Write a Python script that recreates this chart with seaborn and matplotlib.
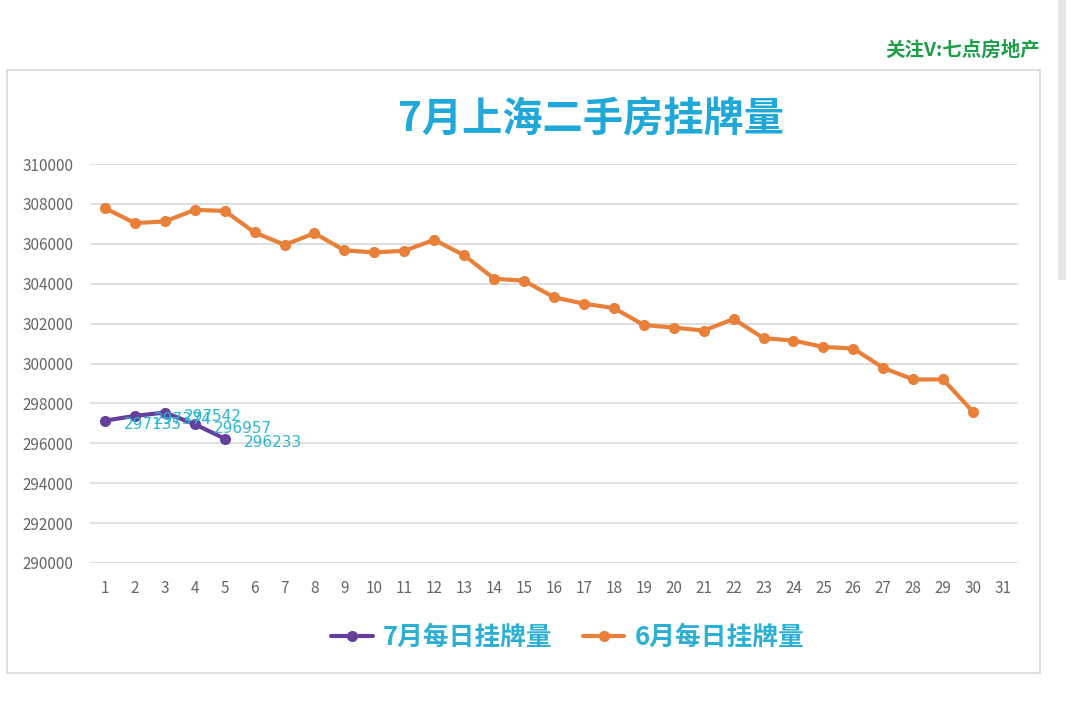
import seaborn as sns
import matplotlib.pyplot as plt
import pandas as pd
from matplotlib.patches import Rectangle

# data
days_june = list(range(1, 31))
june_vals = [307790, 307040, 307120, 307700, 307650, 306570, 305950, 306530, 305670, 305570,
             305650, 306200, 305420, 304250, 304150, 303320, 303000, 302780, 301930, 301800,
             301650, 302230, 301270, 301150, 300830, 300750, 299780, 299200, 299200, 297570]
days_july = [1, 2, 3, 4, 5]
july_vals = [297135, 297374, 297542, 296957, 296233]
x_ticks = list(range(1, 32))
label_july = "7月每日挂牌量"
label_june = "6月每日挂牌量"

df = pd.concat([
    pd.DataFrame({"day": days_july, "value": july_vals, "series": label_july}),
    pd.DataFrame({"day": days_june, "value": june_vals, "series": label_june}),
])

sns.set_style("white")
plt.rcParams['font.family'] = ['Noto Sans CJK SC', 'DejaVu Sans']

fig = plt.figure(figsize=(10.8, 7.07), dpi=100)
ax = fig.add_axes([0.0833, 0.2037, 0.8593, 0.5643])

# outer chart box
fig.patches.append(Rectangle((7/1080, 1-673/707), 1033/1080, 603/707, transform=fig.transFigure,
                             fill=False, edgecolor="#d9d9d9", linewidth=1.2))
# scrollbar hint
fig.patches.append(Rectangle((1058/1080, 1-280/707), 8/1080, 280/707, transform=fig.transFigure,
                             facecolor="#e6e6e6", edgecolor="none"))

colors = {label_july: "#64409c", label_june: "#e8803a"}
sns.lineplot(data=df, x="day", y="value", hue="series", hue_order=[label_july, label_june],
             palette=colors, marker="o", markersize=8, markeredgewidth=0, linewidth=3, ax=ax)

for d, v in zip(days_july, july_vals):
    ax.annotate(str(v), (d, v), xytext=(19, -4), textcoords="offset pixels",
                va="center", ha="left", fontsize=11, color="#2bb5d0", family=['DejaVu Sans'])

ax.set_xlim(0.5, 31.5)
ax.set_ylim(290000, 310000)
ax.set_yticks(range(290000, 310001, 2000))
ax.set_xticks(x_ticks)
ax.grid(axis="y", color="#d9d9d9", linewidth=1.2)
ax.set_axisbelow(True)
for s in ax.spines.values():
    s.set_visible(False)
ax.tick_params(axis="both", length=0, labelsize=11, labelcolor="#666666")
ax.tick_params(axis="y", pad=12)
ax.tick_params(axis="x", pad=12)
ax.set_xlabel("")
ax.set_ylabel("")

leg = ax.legend(loc="upper center", bbox_to_anchor=(0.515, -0.095), ncol=2, frameon=False,
                prop={"size": 18.5, "weight": "bold"}, handlelength=1.6, handletextpad=0.4,
                columnspacing=1.2)
for t in leg.get_texts():
    t.set_color("#2bb0d4")

fig.text(0.547, 1 - 120/707, "7月上海二手房挂牌量", ha="center", va="center",
         fontsize=29, fontweight="bold", color="#1fa8d8")
fig.text(1040/1080, 1 - 50/707, "关注V:七点房地产", ha="right", va="center",
         fontsize=14, fontweight="bold", color="#1e9e4a")

fig.savefig("out.png", dpi=100, facecolor="white")
